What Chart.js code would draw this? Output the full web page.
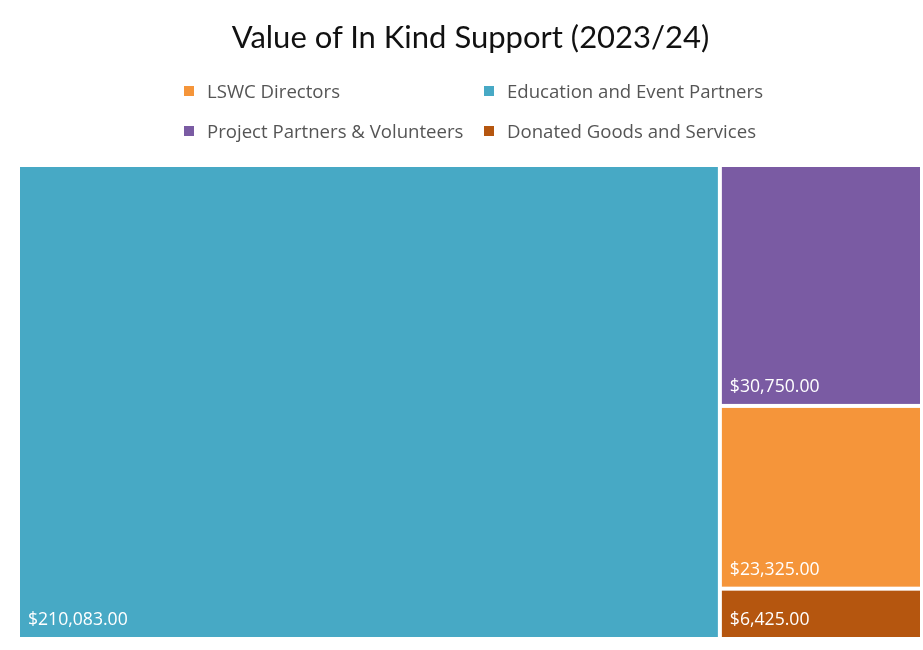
<!DOCTYPE html>
<html>
<head>
<meta charset="utf-8">
<script src="https://cdn.jsdelivr.net/npm/chart.js@4.4.1/dist/chart.umd.min.js"></script>
<style>
  body { margin: 0; background: #fff; }
  #wrap { position: relative; width: 923px; height: 650px; }
  #chart { position: absolute; left: 0; top: 0; }
  #title {
    position: absolute; left: 0; top: 17px; width: 941px; text-align: center;
    font-family: "Lato", sans-serif; font-size: 31px; color: #111;
  }
  .item {
    position: absolute; font-family: "Open Sans", sans-serif; font-size: 18.6px; color: #555;
    line-height: 20px;
  }
  .item span.box {
    position: absolute; left: -23px; top: 5px; width: 10px; height: 10px;
  }
</style>
</head>
<body>
<div id="wrap">
  <canvas id="chart" width="923" height="650"></canvas>
  <div id="title">Value of In Kind Support (2023/24)</div>
  <div id="legend"></div>
</div>
<script>
// data
var categories = ['LSWC Directors', 'Education and Event Partners', 'Project Partners & Volunteers', 'Donated Goods and Services'];
var values = [23325, 210083, 30750, 6425];
var colors = ['#F5953A', '#47A9C5', '#7A5BA3', '#B5560F'];

// legend, two columns like the original
var legend = document.getElementById('legend');
var colX = [207, 507];
var rowY = [81, 121];
categories.forEach(function(name, i) {
    var div = document.createElement('div');
    div.className = 'item';
    div.style.left = colX[i % 2] + 'px';
    div.style.top = rowY[Math.floor(i / 2)] + 'px';
    div.innerHTML = '<span class="box" style="background:' + colors[i] + '"></span>' + name.replace('&', '&amp;');
    legend.appendChild(div);
});

function money(v) {
    return '$' + v.toLocaleString('en-US', { minimumFractionDigits: 2, maximumFractionDigits: 2 });
}

// squarified treemap layout in a w x h box
function worst(row, side) {
    var s = 0, mx = -Infinity, mn = Infinity;
    row.forEach(function(r) { s += r.a; mx = Math.max(mx, r.a); mn = Math.min(mn, r.a); });
    return Math.max(side * side * mx / (s * s), (s * s) / (side * side * mn));
}

function squarify(items, x, y, w, h) {
    var out = [];
    var rest = items.slice();
    while (rest.length) {
        var side = Math.min(w, h);
        var row = [rest.shift()];
        while (rest.length && worst(row.concat([rest[0]]), side) <= worst(row, side)) {
            row.push(rest.shift());
        }
        var sum = row.reduce(function(a, r) { return a + r.a; }, 0);
        if (w >= h) {
            var rw = sum / h, cy = y;
            row.forEach(function(r) {
                var rh = r.a / rw;
                out.push({ i: r.i, x: x, y: cy, w: rw, h: rh });
                cy += rh;
            });
            x += rw; w -= rw;
        } else {
            var rh2 = sum / w, cx = x;
            row.forEach(function(r) {
                var rw2 = r.a / rh2;
                out.push({ i: r.i, x: cx, y: y, w: rw2, h: rh2 });
                cx += rw2;
            });
            y += rh2; h -= rh2;
        }
    }
    return out;
}

var treemapPlugin = {
    id: 'treemap',
    afterDatasetsDraw: function(chart) {
        var ca = chart.chartArea;
        var xs = chart.scales.x, ys = chart.scales.y;
        var total = values.reduce(function(a, b) { return a + b; }, 0);
        var area = ca.width * ca.height;
        var items = values.map(function(v, i) { return { i: i, a: v / total * area }; })
            .sort(function(a, b) { return b.a - a.a; });
        var boxes = squarify(items, 0, 0, ca.width, ca.height);
        var ctx = chart.ctx;
        ctx.save();
        boxes.forEach(function(b) {
            // convert to scale units (0..100) and back to pixels via the scales
            var l = xs.getPixelForValue(b.x / ca.width * 100) + 2;
            var r = xs.getPixelForValue((b.x + b.w) / ca.width * 100) - 2;
            var t = ys.getPixelForValue(b.y / ca.height * 100) + 2;
            var bt = ys.getPixelForValue((b.y + b.h) / ca.height * 100) - 2;
            ctx.fillStyle = colors[b.i];
            ctx.fillRect(l, t, r - l, bt - t);
            ctx.fillStyle = '#ffffff';
            ctx.font = '17.6px "Open Sans", sans-serif';
            ctx.textBaseline = 'middle';
            ctx.textAlign = 'left';
            ctx.fillText(money(values[b.i]), l + 8, bt - 17);
        });
        ctx.restore();
    }
};

var ctx = document.getElementById('chart').getContext('2d');
var chart = new Chart(ctx, {
    type: 'scatter',
    data: {
        datasets: [{ data: [], pointRadius: 0 }]
    },
    options: {
        responsive: false,
        animation: false,
        layout: { padding: { left: 18, right: 1, top: 165, bottom: 11 } },
        plugins: { legend: { display: false }, tooltip: { enabled: false }, title: { display: false } },
        scales: {
            x: { type: 'linear', min: 0, max: 100, display: false },
            y: { type: 'linear', min: 0, max: 100, reverse: true, display: false }
        }
    },
    plugins: [treemapPlugin]
});
</script>
</body>
</html>
